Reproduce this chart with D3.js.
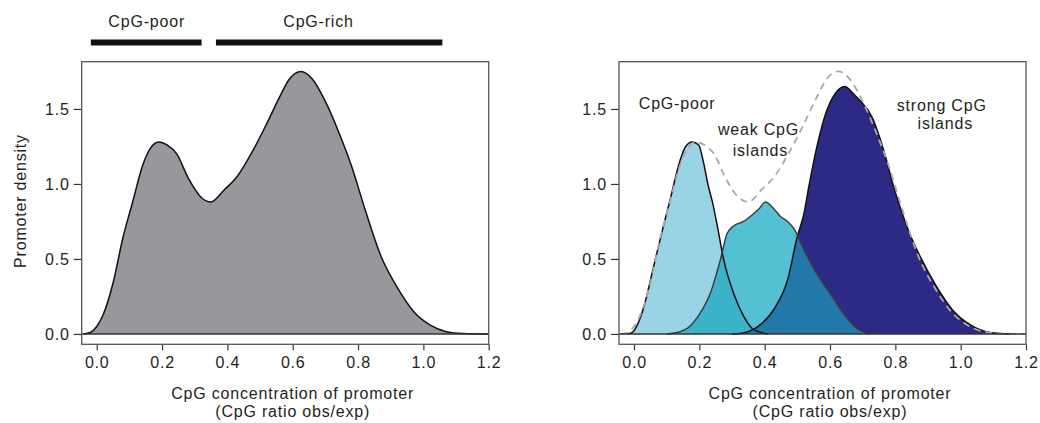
<!DOCTYPE html>
<html lang="en">
	<head>
		<meta charset="utf-8">
		<title>D3: CpG promoter density</title>
		<script type="text/javascript" src="https://d3js.org/d3.v7.min.js"></script>
		<style type="text/css">
			body {
				margin: 0;
				background: #fff;
			}

			text {
				font-family: "Liberation Sans", Arial, Helvetica, sans-serif;
				font-size: 16px;
				letter-spacing: 0.8px;
				fill: #231f20;
			}

			.frame {
				fill: none;
				stroke: #555;
				stroke-width: 1.3;
			}

			.zero {
				stroke: #333;
				stroke-width: 1.6;
			}

			.outline {
				fill: none;
				stroke: #111;
				stroke-width: 1.5;
			}

			.dashed {
				fill: none;
				stroke: #a9a9a9;
				stroke-width: 1.8;
				stroke-dasharray: 7, 5;
			}
		</style>
	</head>
	<body>
		<script type="text/javascript">

			var w = 1040;
			var h = 423;

			// axis ticks
			var xTicks = [0, 0.2, 0.4, 0.6, 0.8, 1.0, 1.2];
			var yTicks = [0, 0.5, 1.0, 1.5];

			// all promoters (left panel, dashed line on right panel)
			var totalX = [-0.04, -0.02, 0.0, 0.02, 0.05, 0.08, 0.11, 0.14, 0.165, 0.19, 0.215, 0.245, 0.28, 0.32, 0.35, 0.39, 0.43, 0.48, 0.52, 0.56, 0.59, 0.625, 0.66, 0.7, 0.74, 0.78, 0.82, 0.87, 0.92, 0.97, 1.02, 1.07, 1.12, 1.2];
			var totalY = [0.0, 0.01, 0.05, 0.13, 0.34, 0.64, 0.88, 1.12, 1.24, 1.28, 1.26, 1.20, 1.04, 0.91, 0.88, 0.96, 1.05, 1.23, 1.40, 1.58, 1.70, 1.75, 1.70, 1.55, 1.35, 1.12, 0.84, 0.52, 0.31, 0.15, 0.06, 0.015, 0.003, 0.0];

			// the three classes (right panel)
			var poorX = [-0.02, -0.005, 0.01, 0.03, 0.06, 0.09, 0.11, 0.14, 0.158, 0.178, 0.198, 0.213, 0.228, 0.24, 0.255, 0.275, 0.305, 0.335, 0.365, 0.41];
			var poorY = [0.0, 0.01, 0.06, 0.18, 0.45, 0.72, 0.89, 1.15, 1.25, 1.28, 1.26, 1.14, 0.98, 0.88, 0.72, 0.49, 0.27, 0.12, 0.03, 0.0];

			var weakX = [0.1, 0.14, 0.165, 0.2, 0.235, 0.265, 0.285, 0.305, 0.335, 0.365, 0.385, 0.402, 0.43, 0.45, 0.47, 0.49, 0.52, 0.56, 0.6, 0.64, 0.68, 0.72];
			var weakY = [0.0, 0.015, 0.04, 0.13, 0.28, 0.50, 0.67, 0.72, 0.75, 0.80, 0.84, 0.88, 0.83, 0.78, 0.75, 0.70, 0.56, 0.40, 0.27, 0.14, 0.04, 0.0];

			var strongX = [0.3, 0.33, 0.38, 0.43, 0.47, 0.5, 0.52, 0.535, 0.56, 0.59, 0.615, 0.645, 0.672, 0.69, 0.73, 0.765, 0.795, 0.825, 0.84, 0.875, 0.925, 0.975, 1.03, 1.09, 1.15];
			var strongY = [0.0, 0.005, 0.05, 0.17, 0.36, 0.65, 0.80, 0.98, 1.25, 1.49, 1.60, 1.65, 1.60, 1.56, 1.44, 1.22, 0.98, 0.78, 0.69, 0.52, 0.32, 0.16, 0.06, 0.01, 0.0];

			// range bars above the left panel
			var groupNames = ["CpG-poor", "CpG-rich"];
			var groupStart = [-0.018, 0.365];
			var groupEnd = [0.321, 1.058];
			var groupLabelX = [0.153, 0.679];

			// class labels in the right panel
			var annText = ["CpG-poor", "weak CpG", "islands", "strong CpG", "islands"];
			var annX = [0.132, 0.381, 0.387, 0.942, 0.953];
			var annY = [1.50, 1.329, 1.189, 1.487, 1.365];

			var xTitle = ["CpG concentration of promoter", "(CpG ratio obs/exp)"];
			var yTitle = "Promoter density";

			var boxW = 407;
			var boxTop = 61.7;
			var boxBottom = 344.3;

			var toPoints = function(xs, ys) {
				return xs.map(function(x, i) { return { x: x, y: ys[i] }; });
			};

			var total = toPoints(totalX, totalY);
			var poor = toPoints(poorX, poorY);
			var weak = toPoints(weakX, weakY);
			var strong = toPoints(strongX, strongY);

			var svg = d3.select('body')
						.append('svg')
						.attr('width', w)
						.attr('height', h);

			var yScale = d3.scaleLinear()
						.domain([-0.069, 1.815])
						.range([boxBottom, boxTop]);

			var makePanel = function(x0) {
				var xScale = d3.scaleLinear()
							.domain([-0.046, 1.2])
							.range([x0, x0 + boxW]);

				var xAxis = d3.axisBottom(xScale)
							.tickValues(xTicks)
							.tickFormat(d3.format('.1f'))
							.tickSize(6)
							.tickPadding(6);

				var yAxis = d3.axisLeft(yScale)
							.tickValues(yTicks)
							.tickFormat(d3.format('.1f'))
							.tickSize(8)
							.tickPadding(4);

				var gx = svg.append('g')
					.attr('transform', 'translate(0,' + boxBottom + ')')
					.call(xAxis);

				var gy = svg.append('g')
					.attr('transform', 'translate(' + x0 + ',0)')
					.call(yAxis);

				[gx, gy].forEach(function(g) {
					g.attr('font-size', null).attr('font-family', null);
					g.select('.domain').remove();
					g.selectAll('.tick line').attr('stroke', '#333').attr('stroke-width', 1.2);
					g.selectAll('.tick text').attr('fill', '#231f20');
				});

				// axis title, two lines centred under 0.6
				svg.selectAll(null)
					.data(xTitle)
					.enter()
					.append('text')
					.attr('x', xScale(0.6))
					.attr('y', function(d, i) { return 399 + i * 17.5; })
					.attr('text-anchor', 'middle')
					.text(function(d) { return d; });

				return xScale;
			};

			var drawFrame = function(xScale) {
				svg.append('line')
					.attr('class', 'zero')
					.attr('x1', xScale.range()[0])
					.attr('x2', xScale.range()[1])
					.attr('y1', yScale(0))
					.attr('y2', yScale(0));

				svg.append('rect')
					.attr('class', 'frame')
					.attr('x', xScale.range()[0])
					.attr('y', boxTop)
					.attr('width', boxW)
					.attr('height', boxBottom - boxTop);
			};

			//Left panel
			var xLeft = makePanel(81.7);

			var areaL = d3.area()
						.curve(d3.curveMonotoneX)
						.x(function(d) { return xLeft(d.x); })
						.y0(yScale(0))
						.y1(function(d) { return yScale(d.y); });

			var lineL = d3.line()
						.curve(d3.curveMonotoneX)
						.x(function(d) { return xLeft(d.x); })
						.y(function(d) { return yScale(d.y); });

			svg.append('path')
				.datum(total)
				.attr('fill', '#96989b')
				.attr('d', areaL);

			svg.append('path')
				.datum(total)
				.attr('class', 'outline')
				.attr('d', lineL);

			drawFrame(xLeft);

			svg.append('text')
				.attr('transform', 'translate(26,201) rotate(-90)')
				.attr('text-anchor', 'middle')
				.text(yTitle);

			// range bars on top
			groupNames.forEach(function(name, i) {
				svg.append('rect')
					.attr('x', xLeft(groupStart[i]))
					.attr('y', 39.5)
					.attr('width', xLeft(groupEnd[i]) - xLeft(groupStart[i]))
					.attr('height', 6)
					.attr('fill', '#111');

				svg.append('text')
					.attr('x', xLeft(groupLabelX[i]))
					.attr('y', 26.7)
					.attr('text-anchor', 'middle')
					.text(name);
			});

			//Right panel
			var xRight = makePanel(619);

			var areaR = d3.area()
						.curve(d3.curveMonotoneX)
						.x(function(d) { return xRight(d.x); })
						.y0(yScale(0))
						.y1(function(d) { return yScale(d.y); });

			var lineR = d3.line()
						.curve(d3.curveMonotoneX)
						.x(function(d) { return xRight(d.x); })
						.y(function(d) { return yScale(d.y); });

			var defs = svg.append('defs');
			defs.append('clipPath').attr('id', 'clipPoor')
				.append('path').datum(poor).attr('d', areaR);
			defs.append('clipPath').attr('id', 'clipStrong')
				.append('path').datum(strong).attr('d', areaR);

			svg.append('path').datum(poor).attr('fill', '#99d4e6').attr('d', areaR);
			svg.append('path').datum(strong).attr('fill', '#2d2a85').attr('d', areaR);
			svg.append('path').datum(weak).attr('fill', '#53c0d3').attr('d', areaR);

			// overlapping parts of the weak class
			svg.append('path').datum(weak)
				.attr('fill', '#3bb3c8')
				.attr('clip-path', 'url(#clipPoor)')
				.attr('d', areaR);
			svg.append('path').datum(weak)
				.attr('fill', '#2378aa')
				.attr('clip-path', 'url(#clipStrong)')
				.attr('d', areaR);

			svg.append('path').datum(poor).attr('class', 'outline').attr('d', lineR);
			svg.append('path').datum(strong).attr('class', 'outline').attr('d', lineR);
			svg.append('path').datum(weak)
				.attr('class', 'outline')
				.style('stroke', '#3d3d3d')
				.attr('d', lineR);

			svg.append('path')
				.datum(total)
				.attr('class', 'dashed')
				.attr('d', lineR);

			drawFrame(xRight);

			svg.selectAll(null)
				.data(annText)
				.enter()
				.append('text')
				.attr('x', function(d, i) { return xRight(annX[i]); })
				.attr('y', function(d, i) { return yScale(annY[i]); })
				.attr('text-anchor', 'middle')
				.text(function(d) { return d; });

		</script>
	</body>
</html>
